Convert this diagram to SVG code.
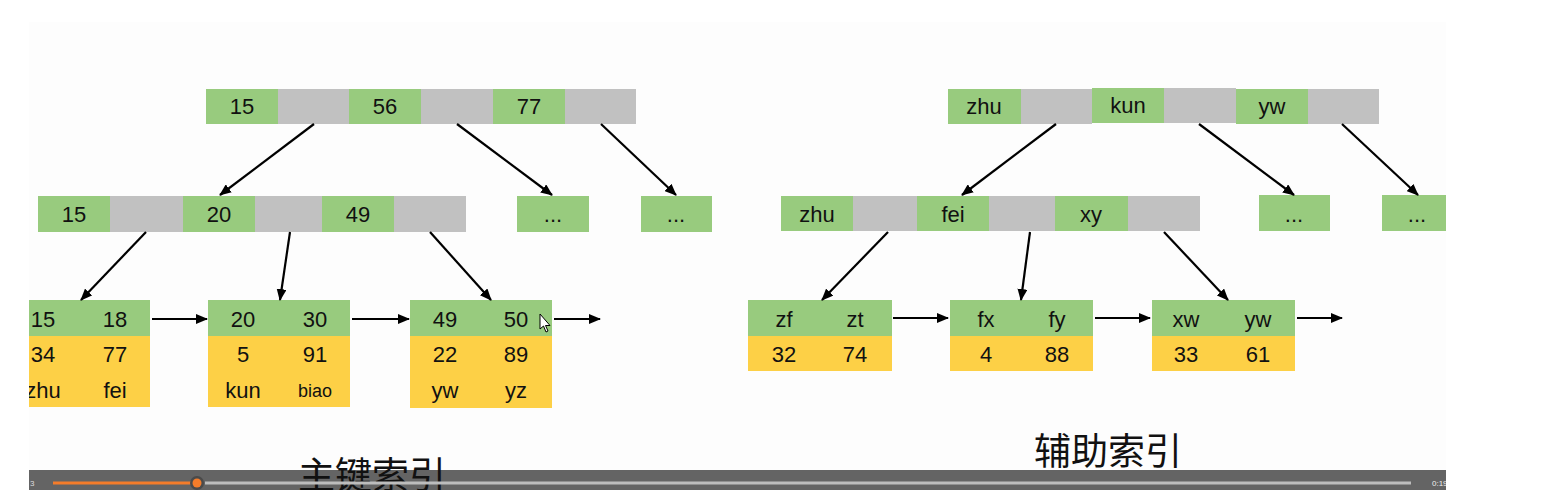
<svg xmlns="http://www.w3.org/2000/svg" width="1560" height="498" viewBox="0 0 1560 498">
<defs>
<style>
.g{fill:#98cb7e}
.s{fill:#c1c1c1}
.y{fill:#fdd046}
.t{font-family:"Liberation Sans",Arial,sans-serif;font-size:22px;fill:#111;text-anchor:middle}
.c{stroke:#000;stroke-width:2.2;fill:none;marker-end:url(#ah)}
.cj{font-family:"Noto Sans CJK SC","Noto Sans CJK JP",sans-serif;font-size:37px;fill:#111}
</style>
<marker id="ah" viewBox="0 0 12 10" refX="11" refY="5" markerWidth="12" markerHeight="10" markerUnits="userSpaceOnUse" orient="auto">
<path d="M0,0 L12,5 L0,10 Z" fill="#000"/>
</marker>
<clipPath id="vid"><rect x="29" y="0" width="1417" height="490"/></clipPath>
</defs>
<rect width="1560" height="498" fill="#fff"/>
<g clip-path="url(#vid)">
<rect x="29" y="22" width="1417" height="470" fill="#fdfdfd"/>

<!-- Left tree -->
<g id="pk-root">
<rect class="g" x="206" y="89" width="72" height="35"/><rect class="s" x="278" y="89" width="71" height="35"/>
<rect class="g" x="349" y="89" width="72" height="35"/><rect class="s" x="421" y="89" width="72" height="35"/>
<rect class="g" x="493" y="89" width="72" height="35"/><rect class="s" x="565" y="89" width="71" height="35"/>
<text class="t" x="242" y="114">15</text><text class="t" x="385" y="114">56</text><text class="t" x="529" y="114">77</text>
</g>
<g id="pk-mid">
<rect class="g" x="38" y="196" width="72" height="36"/><rect class="s" x="110" y="196" width="73" height="36"/>
<rect class="g" x="183" y="196" width="72" height="36"/><rect class="s" x="255" y="196" width="67" height="36"/>
<rect class="g" x="322" y="196" width="72" height="36"/><rect class="s" x="394" y="196" width="72" height="36"/>
<text class="t" x="74" y="222">15</text><text class="t" x="219" y="222">20</text><text class="t" x="358" y="222">49</text>
</g>
<g id="pk-dots1"><rect class="g" x="517" y="196" width="72" height="36"/><text class="t" x="553" y="222">...</text></g>
<g id="pk-dots2"><rect class="g" x="641" y="196" width="71" height="36"/><text class="t" x="676" y="222">...</text></g>
<g id="pk-leaf1">
<rect class="g" x="8" y="300" width="142" height="36"/><rect class="y" x="8" y="336" width="142" height="71"/>
<text class="t" x="43" y="327">15</text><text class="t" x="115" y="327">18</text>
<text class="t" x="43" y="362">34</text><text class="t" x="115" y="362">77</text>
<text class="t" x="43" y="398">zhu</text><text class="t" x="115" y="398">fei</text>
</g>
<g id="pk-leaf2">
<rect class="g" x="208" y="300" width="142" height="36"/><rect class="y" x="208" y="336" width="142" height="71"/>
<text class="t" x="243" y="327">20</text><text class="t" x="315" y="327">30</text>
<text class="t" x="243" y="362">5</text><text class="t" x="315" y="362">91</text>
<text class="t" x="243" y="398">kun</text><text class="t" x="315" y="397" style="font-size:18px">biao</text>
</g>
<g id="pk-leaf3">
<rect class="g" x="410" y="300" width="142" height="36"/><rect class="y" x="410" y="336" width="142" height="72"/>
<text class="t" x="445" y="327">49</text><text class="t" x="516" y="327">50</text>
<text class="t" x="445" y="362">22</text><text class="t" x="516" y="362">89</text>
<text class="t" x="445" y="398">yw</text><text class="t" x="516" y="398">yz</text>
</g>

<!-- Right tree -->
<g id="sk-root">
<rect class="g" x="948" y="89" width="73" height="35"/><rect class="s" x="1021" y="89" width="71" height="35"/>
<rect class="g" x="1092" y="88" width="72" height="35"/><rect class="s" x="1164" y="88" width="72" height="35"/>
<rect class="g" x="1236" y="89" width="72" height="35"/><rect class="s" x="1308" y="89" width="71" height="35"/>
<text class="t" x="984" y="114">zhu</text><text class="t" x="1128" y="113">kun</text><text class="t" x="1272" y="114">yw</text>
</g>
<g id="sk-mid">
<rect class="g" x="781" y="196" width="72" height="35"/><rect class="s" x="853" y="196" width="64" height="35"/>
<rect class="g" x="917" y="196" width="72" height="35"/><rect class="s" x="989" y="196" width="66" height="35"/>
<rect class="g" x="1055" y="196" width="73" height="35"/><rect class="s" x="1128" y="196" width="72" height="35"/>
<text class="t" x="817" y="222">zhu</text><text class="t" x="953" y="222">fei</text><text class="t" x="1091" y="222">xy</text>
</g>
<g id="sk-dots1"><rect class="g" x="1259" y="195" width="71" height="36"/><text class="t" x="1294" y="222">...</text></g>
<g id="sk-dots2"><rect class="g" x="1382" y="195" width="71" height="36"/><text class="t" x="1417" y="222">...</text></g>
<g id="sk-leaf1">
<rect class="g" x="748" y="300" width="144" height="36"/><rect class="y" x="748" y="336" width="144" height="35"/>
<text class="t" x="784" y="327">zf</text><text class="t" x="855" y="327">zt</text>
<text class="t" x="784" y="362">32</text><text class="t" x="855" y="362">74</text>
</g>
<g id="sk-leaf2">
<rect class="g" x="950" y="300" width="143" height="36"/><rect class="y" x="950" y="336" width="143" height="35"/>
<text class="t" x="986" y="327">fx</text><text class="t" x="1057" y="327">fy</text>
<text class="t" x="986" y="362">4</text><text class="t" x="1057" y="362">88</text>
</g>
<g id="sk-leaf3">
<rect class="g" x="1152" y="300" width="143" height="36"/><rect class="y" x="1152" y="336" width="143" height="35"/>
<text class="t" x="1186" y="327">xw</text><text class="t" x="1258" y="327">yw</text>
<text class="t" x="1186" y="362">33</text><text class="t" x="1258" y="362">61</text>
</g>

<g id="connectors">
<line class="c" x1="314" y1="124" x2="220" y2="195"/>
<line class="c" x1="457" y1="124" x2="552" y2="195"/>
<line class="c" x1="601" y1="124" x2="676" y2="195"/>
<line class="c" x1="146" y1="232" x2="81" y2="300"/>
<line class="c" x1="290" y1="232" x2="280" y2="300"/>
<line class="c" x1="430" y1="232" x2="491" y2="300"/>
<line class="c" x1="152" y1="319" x2="207" y2="319"/>
<line class="c" x1="352" y1="319" x2="409" y2="319"/>
<line class="c" x1="554" y1="319" x2="600" y2="319"/>
<line class="c" x1="1056" y1="124" x2="962" y2="195"/>
<line class="c" x1="1199" y1="124" x2="1294" y2="195"/>
<line class="c" x1="1342" y1="124" x2="1418" y2="195"/>
<line class="c" x1="888" y1="232" x2="822" y2="300"/>
<line class="c" x1="1030" y1="232" x2="1021" y2="300"/>
<line class="c" x1="1164" y1="232" x2="1228" y2="300"/>
<line class="c" x1="893" y1="318" x2="948" y2="318"/>
<line class="c" x1="1095" y1="318" x2="1150" y2="318"/>
<line class="c" x1="1297" y1="318" x2="1342" y2="318"/>
</g>

<path d="M540,314 L540,329 L543.5,326 L546,332 L548,331 L545.5,325.5 L550,325.5 Z" fill="#fff" stroke="#000" stroke-width="1"/>

<text class="cj" x="1034" y="465">辅助索引</text>

<rect x="29" y="470" width="1417" height="20" fill="#646464"/>
<text class="cj" x="298" y="489">主键索引</text>
<line x1="53" y1="483" x2="197" y2="483" stroke="#f47c2a" stroke-width="3"/>
<line x1="205" y1="483" x2="1411" y2="483" stroke="#bdbdbd" stroke-width="3"/>
<circle cx="197" cy="483" r="7" fill="#4a4a4a"/>
<circle cx="197" cy="483" r="4.5" fill="#f47c2a"/>
<text x="30" y="486" style="font-family:'Liberation Sans',sans-serif;font-size:8px;fill:#ddd">3</text>
<text x="1432" y="486" style="font-family:'Liberation Sans',sans-serif;font-size:8px;fill:#eee">0:19</text>
</g>
</svg>
